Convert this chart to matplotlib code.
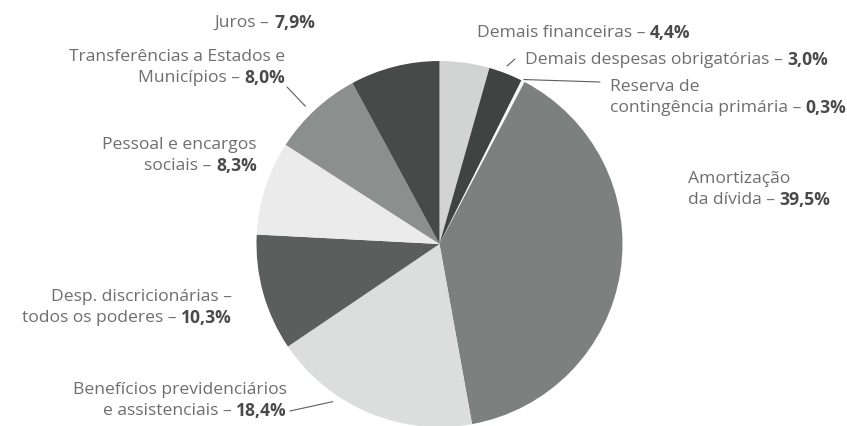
import math

import matplotlib.pyplot as plt

plt.rcParams["font.family"] = ["Open Sans", "DejaVu Sans"]

# Budget shares, clockwise from 12 o'clock
categories = [
    "Demais financeiras",
    "Demais despesas obrigatórias",
    "Reserva de contingência primária",
    "Amortização da dívida",
    "Benefícios previdenciários e assistenciais",
    "Desp. discricionárias – todos os poderes",
    "Pessoal e encargos sociais",
    "Transferências a Estados e Municípios",
    "Juros",
]
shares = [4.4, 3.0, 0.3, 39.5, 18.4, 10.3, 8.3, 8.0, 7.9]
colors = ["#d2d4d3", "#3f4442", "#f7f7f7", "#7c807f", "#dcdddd",
          "#5a5e5d", "#ebebeb", "#8b8f8e", "#464b49"]

# how each label is broken over lines (value is appended in bold)
label_lines = [
    ["Demais financeiras"],
    ["Demais despesas obrigatórias"],
    ["Reserva de", "contingência primária"],
    ["Amortização", "da dívida"],
    ["Benefícios previdenciários", "e assistenciais"],
    ["Desp. discricionárias –", "todos os poderes"],
    ["Pessoal e encargos", "sociais"],
    ["Transferências a Estados e", "Municípios"],
    ["Juros"],
]

W, H = 847, 427
CX, CY, R = 439.5, 245, 183

# label layout in pixels from the top-left: text anchor, alignment,
# leader end near the text, position of leader start inside the wedge
layout = [
    dict(x=477, y=33, ha="left", end=(472, 38), frac=0.39, r=1.04),
    dict(x=525, y=60, ha="left", end=(515, 60), frac=0.46, r=1.04),
    dict(x=610, y=98, ha="left", end=(600, 83), frac=0.5, r=1.01),
    dict(x=688, y=190, ha="left", end=(675, 187), frac=0.34, r=1.04),
    dict(x=287, y=401, ha="right", end=(290, 412), frac=0.67, r=1.04),
    dict(x=232, y=308, ha="right", end=(233, 320), frac=0.45, r=1.06),
    dict(x=257, y=156, ha="right", end=(235, 182), frac=0.46, r=1.05),
    dict(x=285, y=68, ha="right", end=(287, 88), frac=0.45, r=1.05),
    dict(x=315, y=23, ha="right", end=(328, 30), frac=0.54, r=1.06),
]

TEXT = "#6e6e6e"
BOLD = "#4a4a4a"
LINE = "#5c5c5c"
FS = 12.6
LH = 21

fig = plt.figure(figsize=(W / 100, H / 100), dpi=100)
ax = fig.add_axes([(CX - R) / W, (H - CY - R) / H, 2 * R / W, 2 * R / H])
ax.pie(shares, colors=colors, startangle=90, counterclock=False,
       wedgeprops=dict(linewidth=0))
ax.set_xlim(-1, 1)
ax.set_ylim(-1, 1)

renderer = fig.canvas.get_renderer()
total = sum(shares)
start = 0.0
for share, lines, lay in zip(shares, label_lines, layout):
    span = share / total * 360
    a = math.radians(start + lay["frac"] * span)
    start += span
    px = lay["r"] * math.sin(a)
    py = lay["r"] * math.cos(a)
    ex, ey = lay["end"]
    ax.annotate("", xy=(px, py), xycoords="data",
                xytext=(ex, H - ey), textcoords="figure pixels",
                arrowprops=dict(arrowstyle="-", color=LINE, lw=0.8,
                                shrinkA=0, shrinkB=0))

    value = f"{share:.1f}".replace(".", ",") + "%"
    n = len(lines)
    top = lay["y"] - (n - 1) * LH / 2
    for i, line in enumerate(lines):
        y = H - (top + i * LH)
        last = i == n - 1
        if lay["ha"] == "left":
            t = fig.text(lay["x"], y, line + (" – " if last else ""),
                         transform=None, ha="left", va="center",
                         fontsize=FS, color=TEXT)
            if last:
                w = t.get_window_extent(renderer).width
                fig.text(lay["x"] + w, y, value, transform=None, ha="left",
                         va="center", fontsize=FS, color=BOLD,
                         fontweight="bold")
        else:
            if last:
                b = fig.text(lay["x"], y, value, transform=None, ha="right",
                             va="center", fontsize=FS, color=BOLD,
                             fontweight="bold")
                w = b.get_window_extent(renderer).width
                fig.text(lay["x"] - w, y, line + " – ", transform=None,
                         ha="right", va="center", fontsize=FS, color=TEXT)
            else:
                fig.text(lay["x"], y, line, transform=None, ha="right",
                         va="center", fontsize=FS, color=TEXT)

fig.savefig("out.png", dpi=100, facecolor="white")
